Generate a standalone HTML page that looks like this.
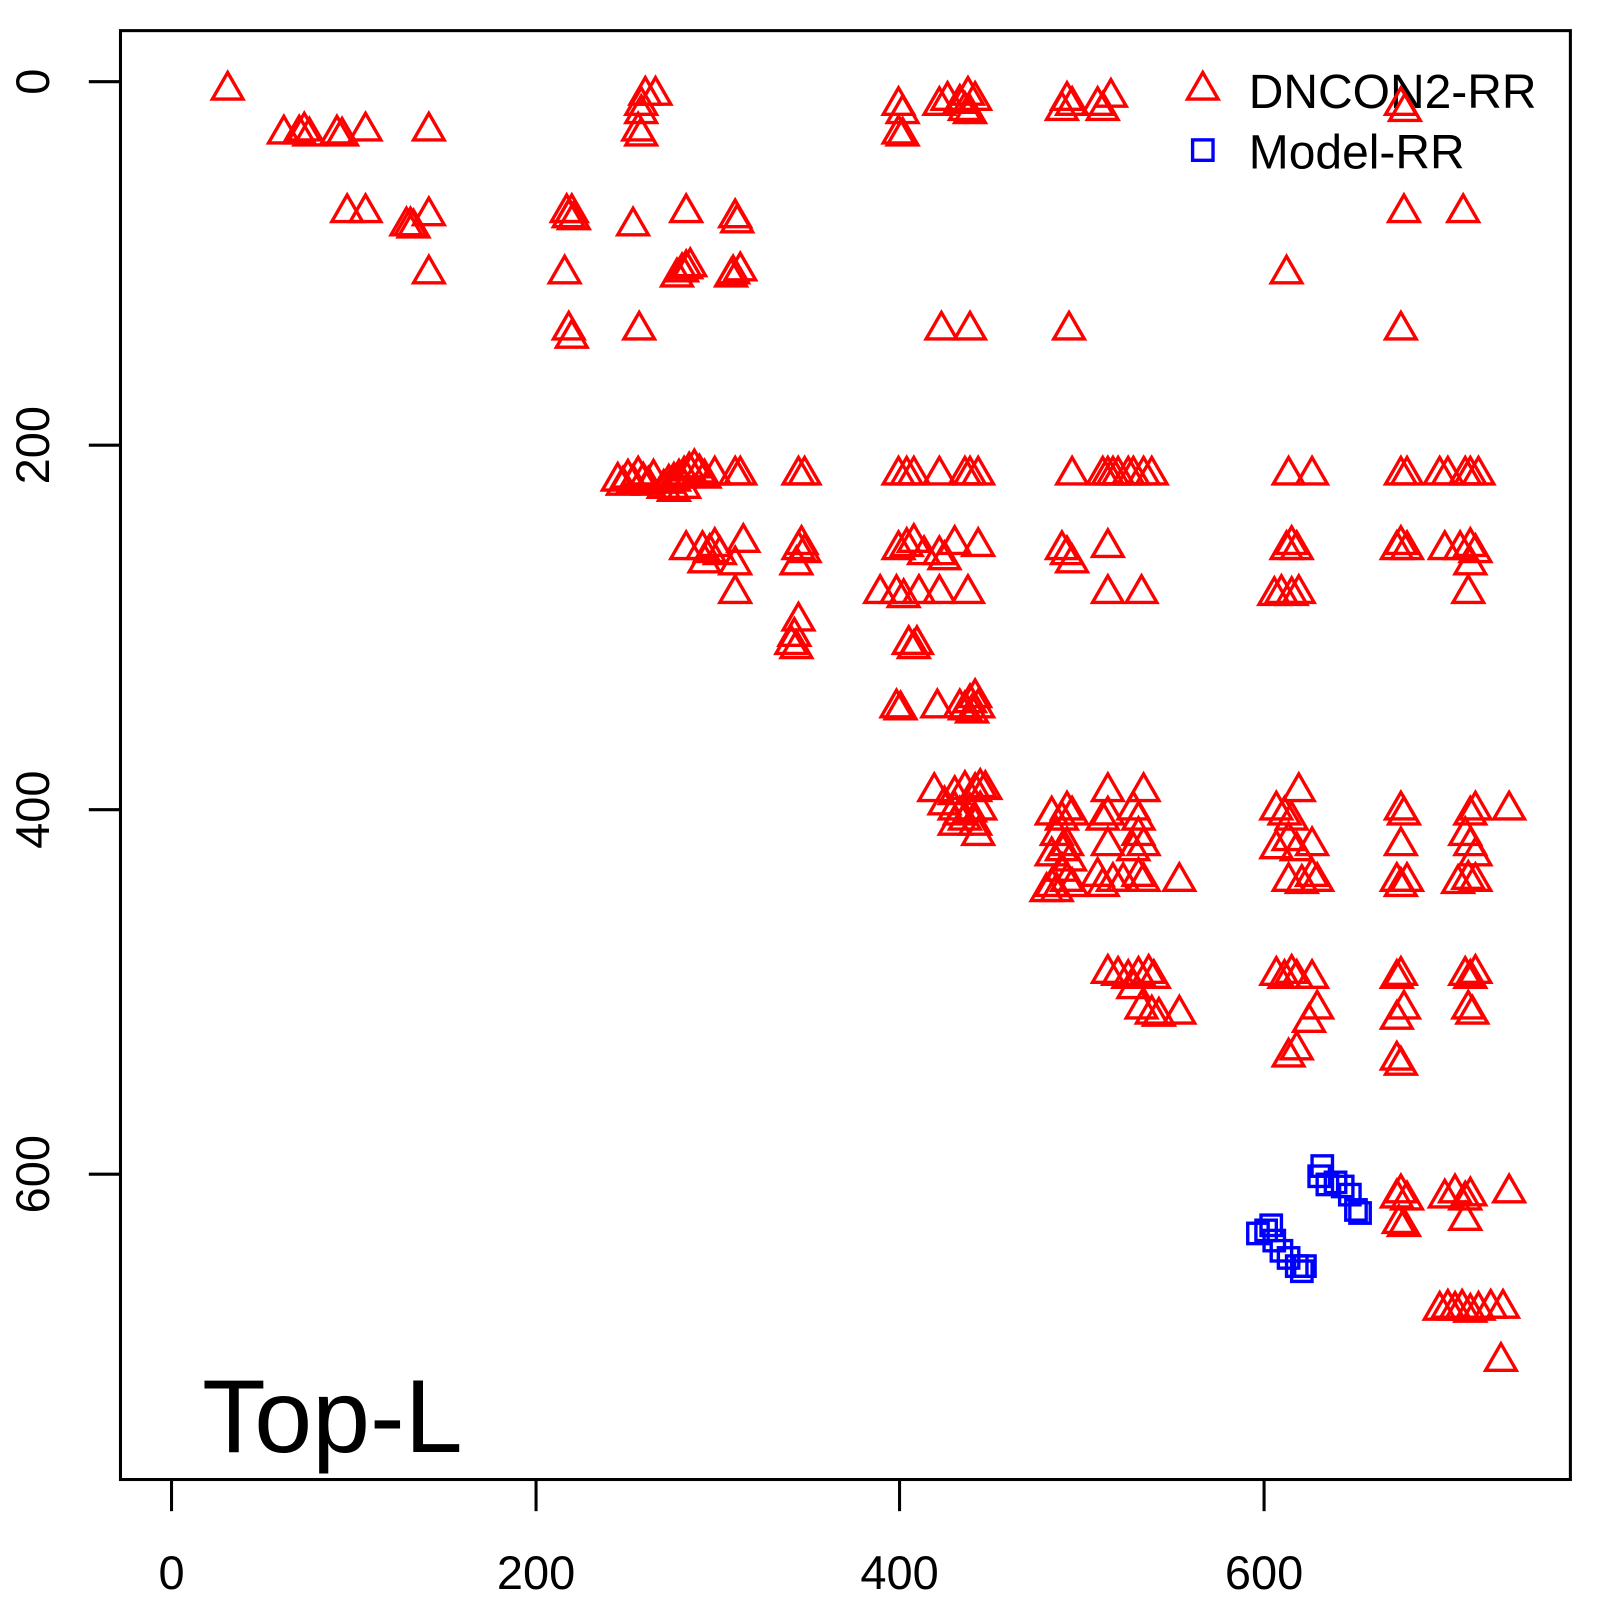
<!DOCTYPE html>
<html><head><style>html,body{margin:0;padding:0;background:#fff}svg{display:block}</style></head>
<body>
<svg id="s" width="1600" height="1600" viewBox="0 0 1567 1567" xmlns="http://www.w3.org/2000/svg" font-family="Liberation Sans, sans-serif">
<rect x="118" y="30" width="1420" height="1419" fill="none" stroke="#000" stroke-width="3"/>
<g stroke="#000" stroke-width="3">
<line x1="168" y1="1449" x2="168" y2="1480"/><line x1="525" y1="1449" x2="525" y2="1480"/><line x1="881" y1="1449" x2="881" y2="1480"/><line x1="1238" y1="1449" x2="1238" y2="1480"/>
<line x1="87" y1="80" x2="118" y2="80"/><line x1="87" y1="436" x2="118" y2="436"/><line x1="87" y1="793" x2="118" y2="793"/><line x1="87" y1="1150" x2="118" y2="1150"/>
</g>
<g font-size="46" text-anchor="middle" fill="#000">
<text x="168" y="1556">0</text><text x="525" y="1556">200</text><text x="881" y="1556">400</text><text x="1238" y="1556">600</text>
<text transform="translate(48,80) rotate(-90)">0</text>
<text transform="translate(48,436) rotate(-90)">200</text>
<text transform="translate(48,793) rotate(-90)">400</text>
<text transform="translate(48,1150) rotate(-90)">600</text>
</g>
<text x="198" y="1422" font-size="102">Top-L</text>
<text x="1223" y="106" font-size="47">DNCON2-RR</text>
<text x="1223" y="165" font-size="47">Model-RR</text>
<g id="t" fill="none" stroke="#f00" stroke-width="3.3"></g>
<g id="q" fill="none" stroke="#00f" stroke-width="3.3"></g>
</svg>
<script>
var T=[[223,85],[278,128],[293,128],[298,125],[303,130],[330,128],[335,130],[358,125],[420,125],
[340,205],[358,205],[420,208],[398,218],[402,218],[405,220],[420,265],
[555,205],[557,210],[560,205],[562,212],[553,265],[557,320],[560,328],[620,218],[626,320],
[632,90],[642,90],[628,100],[628,108],[625,125],[628,130],[672,205],[663,268],[668,263],[672,260],[676,258],
[720,210],[722,215],[718,265],[725,262],[716,268],[880,100],[884,108],[880,128],[884,130],
[920,100],[928,95],[940,98],[948,90],[955,95],[950,108],[945,105],[1045,95],[1050,100],[1040,105],[1075,100],[1080,105],[1088,92],
[1372,100],[1376,106],[1375,205],[1433,205],[1260,265],[1372,320],[922,320],[950,320],[1047,320],
[605,468],[610,472],[615,465],[620,470],[625,462],[630,468],[640,465],[635,472],
[650,475],[655,470],[660,468],[665,465],[670,462],[675,458],[680,455],[685,460],[690,465],[660,478],[670,475],
[700,462],[720,462],[725,462],[782,462],[788,462],[880,462],[888,462],[895,462],[920,462],[945,462],[950,462],[958,462],
[1050,462],[1080,462],[1085,462],[1090,462],[1095,462],[1105,462],[1110,462],[1120,462],[1128,462],
[1262,462],[1285,462],[1372,462],[1378,462],[1410,462],[1418,462],[1435,462],[1440,462],[1448,462],
[672,535],[688,535],[695,538],[700,532],[705,540],[728,528],[690,548],[720,550],[782,535],[785,530],[788,538],[780,550],
[880,535],[888,532],[895,528],[905,540],[920,540],[925,545],[935,530],[958,532],[1040,535],[1045,540],[1050,548],[1085,533],
[1260,535],[1265,530],[1270,535],[1368,535],[1372,530],[1378,535],[1415,535],[1430,535],[1440,532],[1445,538],[1440,550],
[720,578],[862,578],[878,578],[885,582],[900,578],[920,578],[948,578],[1085,578],[1118,578],[1248,580],[1255,578],[1265,580],[1272,578],[1438,578],
[782,605],[778,620],[780,632],[775,628],[890,628],[898,628],[895,632],
[878,690],[882,692],[918,690],[940,690],[945,692],[950,685],[955,680],[958,690],[952,695],
[915,772],[935,775],[945,770],[955,772],[960,768],[965,770],[925,785],[935,790],[940,795],[950,792],[960,790],[945,800],[955,805],[935,805],[958,815],
[1030,795],[1040,800],[1045,790],[1050,795],[1035,815],[1040,830],[1045,825],[1048,840],[1030,835],[1040,850],[1045,860],[1050,865],[1030,865],[1025,870],[1035,870],
[1085,772],[1085,795],[1080,800],[1085,825],[1075,855],[1080,865],[1090,860],[1100,860],[1110,790],[1115,800],[1120,772],[1115,815],[1120,825],[1110,830],[1115,855],[1120,860],[1155,860],
[1250,790],[1258,795],[1265,800],[1272,772],[1262,820],[1270,830],[1250,828],[1285,825],[1262,860],[1285,855],[1290,860],[1275,862],
[1372,790],[1375,795],[1372,825],[1368,860],[1378,860],[1372,865],
[1440,795],[1445,790],[1435,815],[1440,825],[1445,835],[1438,858],[1445,860],[1428,862],[1478,790],
[1085,950],[1095,952],[1105,955],[1115,952],[1125,950],[1130,955],[1110,965],[1118,985],[1128,990],[1135,992],[1155,990],
[1250,952],[1258,955],[1265,950],[1270,955],[1285,955],[1290,985],[1282,998],[1368,955],[1372,952],[1375,985],[1368,995],
[1435,952],[1440,955],[1445,950],[1438,985],[1442,990],[1262,1032],[1270,1025],[1368,1035],[1372,1040],
[1368,1170],[1372,1165],[1378,1172],[1370,1195],[1375,1198],[1415,1170],[1425,1165],[1435,1172],[1440,1168],[1435,1192],[1478,1165],
[1410,1280],[1418,1278],[1425,1280],[1432,1278],[1440,1282],[1448,1280],[1460,1278],[1472,1278],[1470,1330],[1178,85]];
var Q=[[1295,1142],[1292,1152],[1300,1160],[1308,1158],[1315,1162],[1322,1170],[1328,1185],[1332,1188],
[1232,1208],[1240,1205],[1245,1200],[1248,1215],[1255,1225],[1262,1232],[1270,1240],[1278,1240],[1275,1245],[1178,147]];
var ns="http://www.w3.org/2000/svg",t=document.getElementById('t'),q=document.getElementById('q');
T.forEach(function(p){var e=document.createElementNS(ns,'polygon');var x=p[0],y=p[1];
e.setAttribute('points',(x)+','+(y-14)+' '+(x-15)+','+(y+12)+' '+(x+15)+','+(y+12));t.appendChild(e);});
Q.forEach(function(p){var e=document.createElementNS(ns,'rect');e.setAttribute('x',p[0]-10);e.setAttribute('y',p[1]-10);
e.setAttribute('width',20);e.setAttribute('height',20);q.appendChild(e);});
</script>
</body></html>
